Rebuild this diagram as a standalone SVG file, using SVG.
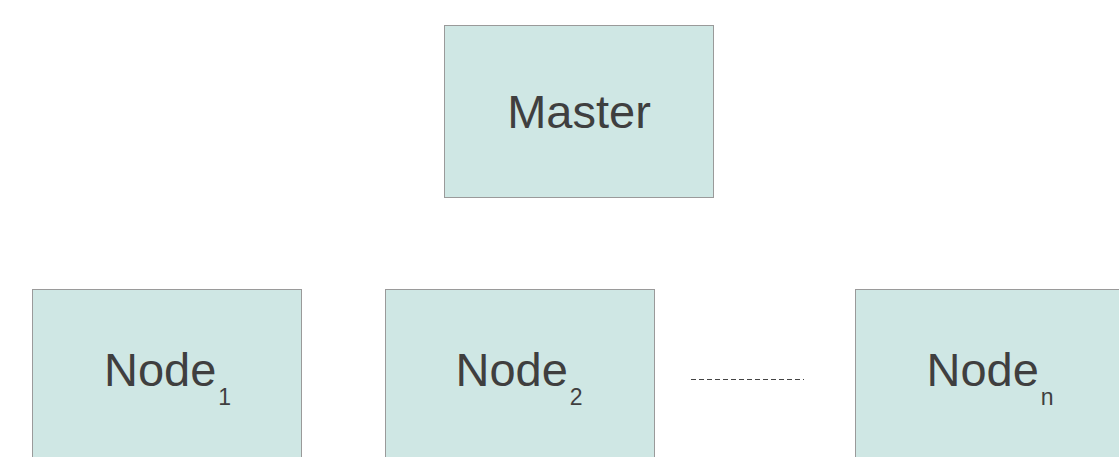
<svg xmlns="http://www.w3.org/2000/svg" width="1119" height="457" viewBox="0 0 1119 457">
<style>
.box{fill:#cfe7e4;stroke:#9a9a9a;stroke-width:1}
.lbl{font-family:"Liberation Sans",Arial,sans-serif;font-size:47px;fill:#3f3f3f}
.sub{font-size:23px}
.dash{stroke:#444;stroke-width:1;stroke-dasharray:5 3;fill:none}
</style>
<rect width="1119" height="457" fill="#ffffff"/>
<g id="master">
<rect class="box" x="444.5" y="25.5" width="269" height="172"/>
<text class="lbl" x="579" y="127.5" text-anchor="middle">Master</text>
</g>
<g id="node1">
<rect class="box" x="32.5" y="289.5" width="269" height="200"/>
<text class="lbl" x="104" y="385.5">Node<tspan class="sub" dx="2" dy="19.5">1</tspan></text>
</g>
<g id="node2">
<rect class="box" x="385.5" y="289.5" width="269" height="200"/>
<text class="lbl" x="455.5" y="385.5">Node<tspan class="sub" dx="2" dy="19.5">2</tspan></text>
</g>
<g id="noden">
<rect class="box" x="855.5" y="289.5" width="269" height="200"/>
<text class="lbl" x="926.5" y="385.5">Node<tspan class="sub" dx="2" dy="19.5">n</tspan></text>
</g>
<g id="connectors">
<line class="dash" x1="691" y1="379.5" x2="804" y2="379.5"/>
</g>
</svg>
